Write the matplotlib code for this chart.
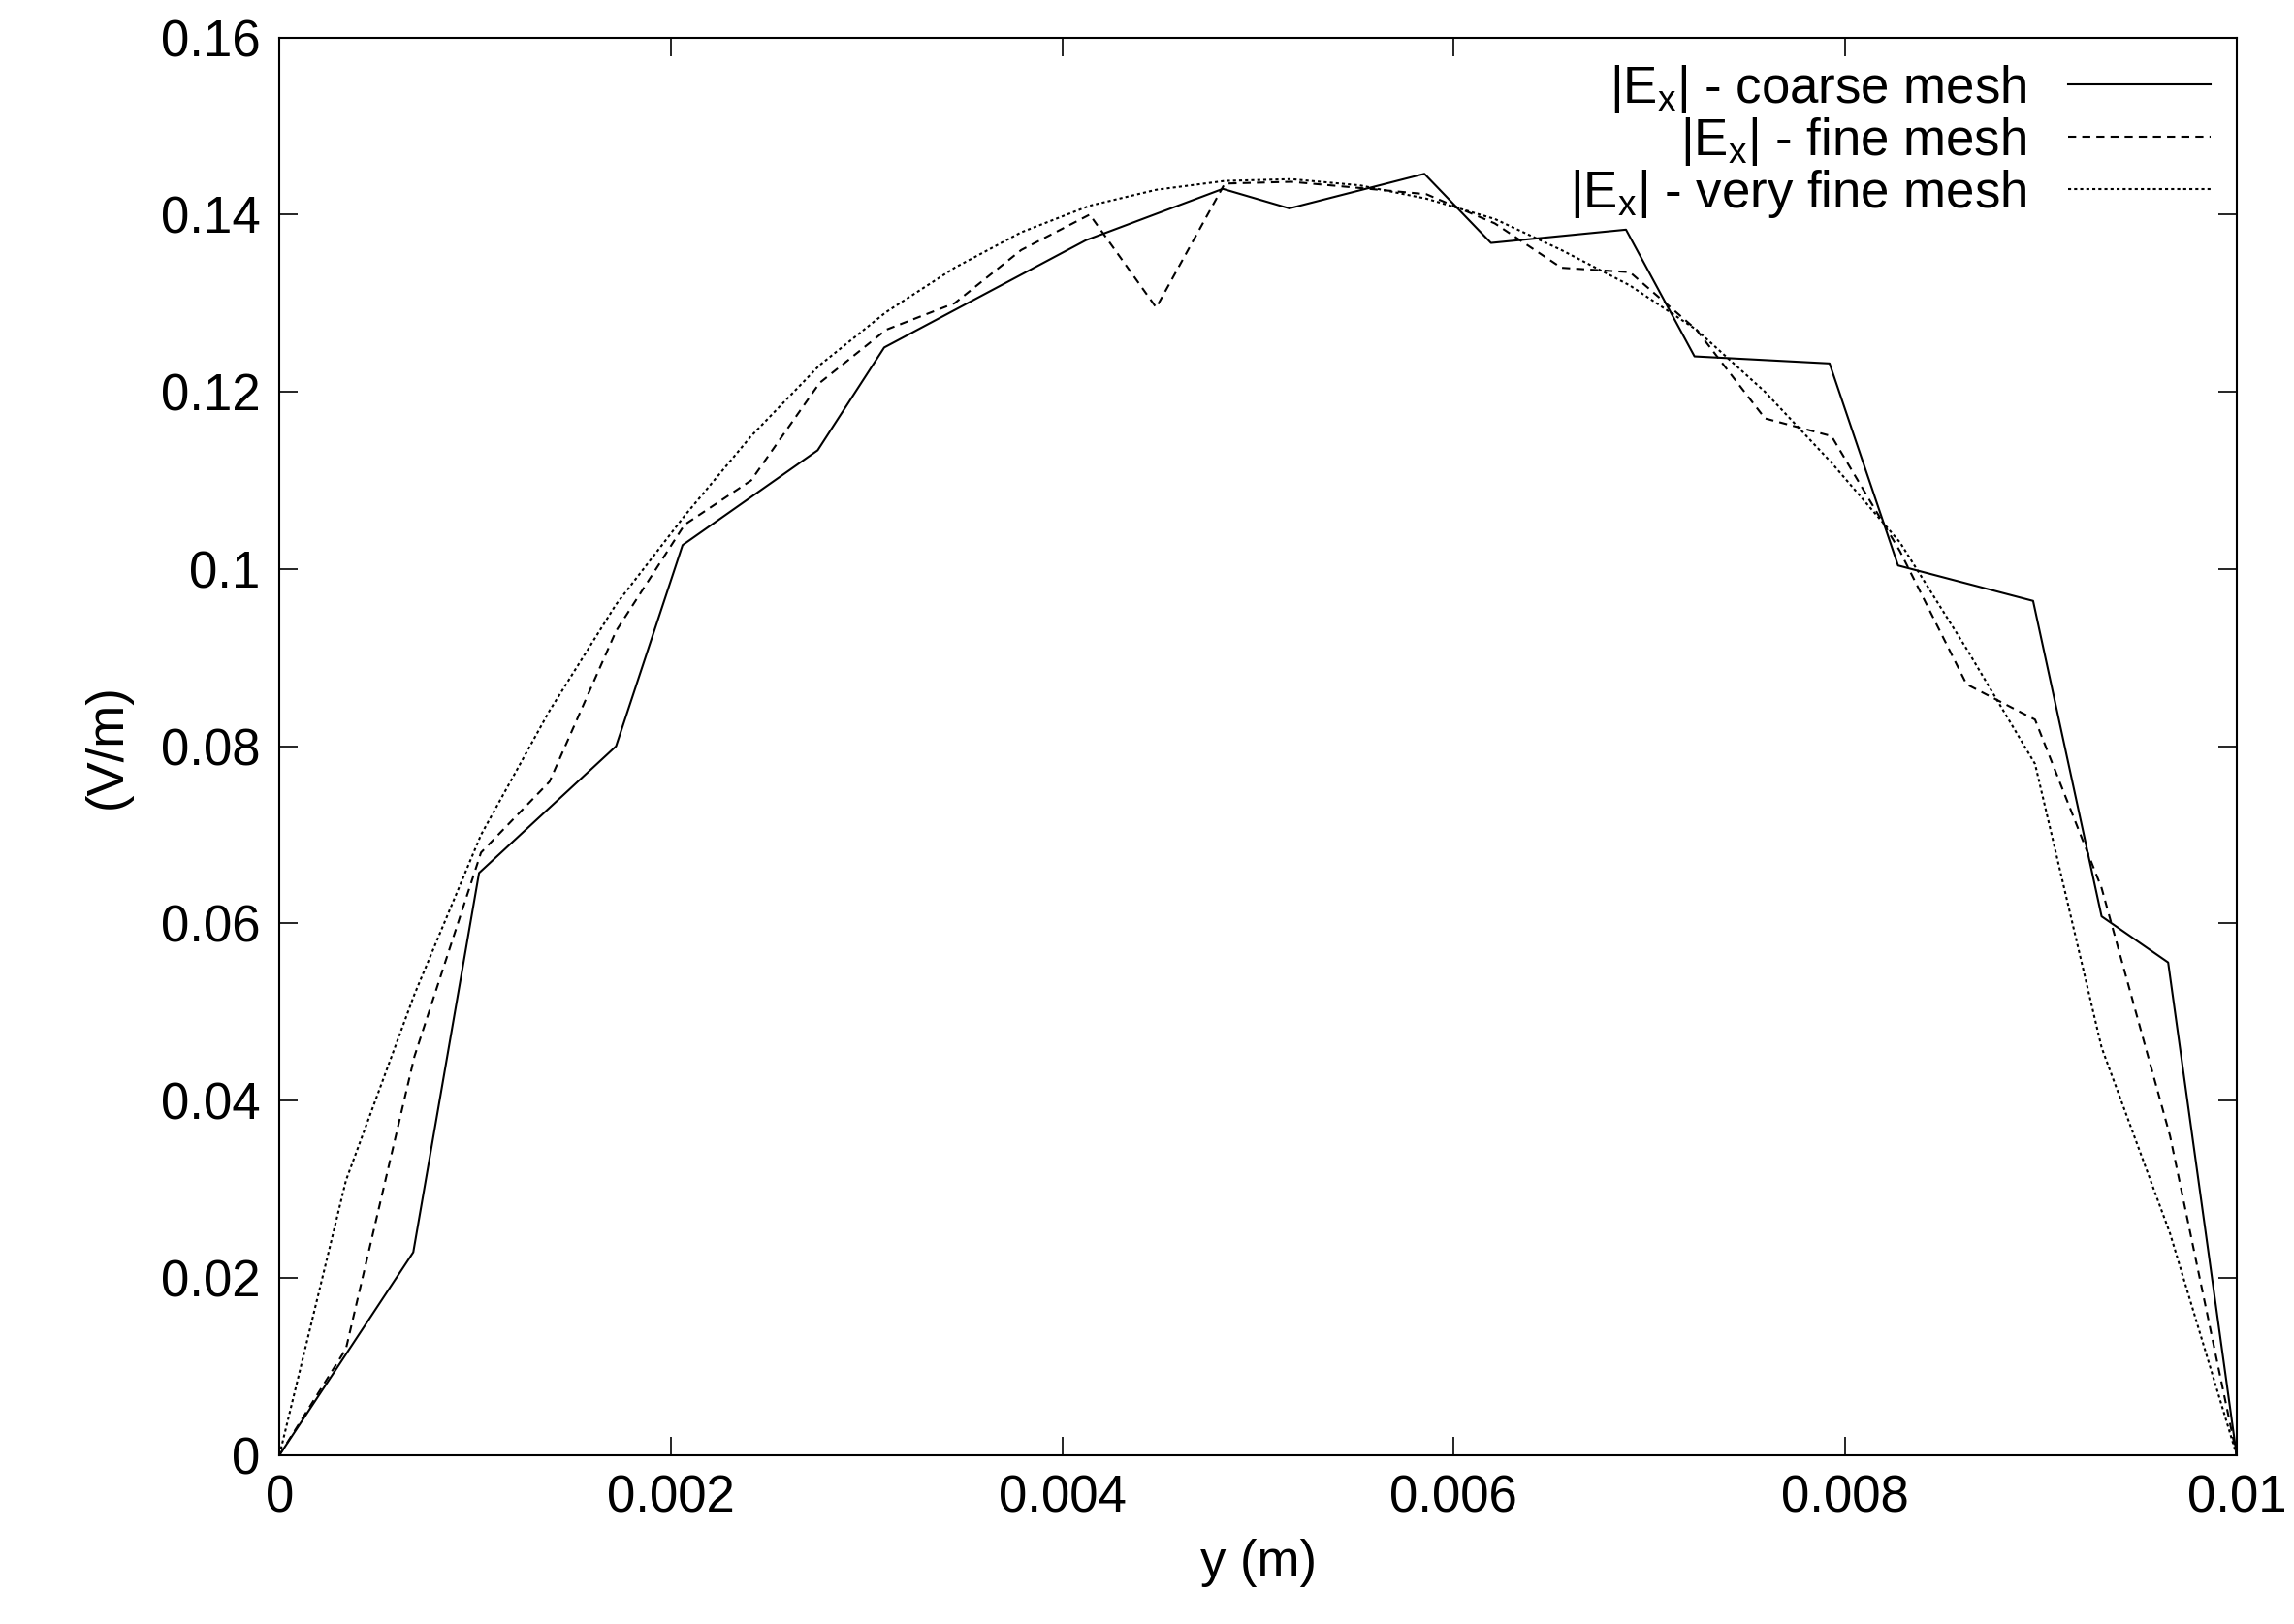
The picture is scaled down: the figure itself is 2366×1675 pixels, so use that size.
import matplotlib
matplotlib.use("Agg")
import matplotlib.pyplot as plt

plt.rcParams['font.family'] = ['Liberation Sans', 'DejaVu Sans']
plt.rcParams['mathtext.fontset'] = 'custom'
plt.rcParams['mathtext.rm'] = 'Liberation Sans'
plt.rcParams['mathtext.it'] = 'Liberation Sans'

coarse_x = [0, 0.000684, 0.00102, 0.00172, 0.00206, 0.00275, 0.00309, 0.00412, 0.00482, 0.00516,
            0.00585, 0.00619, 0.00688, 0.00723, 0.00792, 0.00827, 0.00896, 0.00931, 0.00965, 0.01]
coarse_y = [0, 0.0229, 0.0657, 0.0800, 0.1027, 0.1134, 0.1250, 0.1371, 0.1429, 0.1407,
            0.1446, 0.1368, 0.1383, 0.1240, 0.1232, 0.1004, 0.0964, 0.0608, 0.0556, 0]

fine_x = [0, 0.00034, 0.00069, 0.00103, 0.00138, 0.00172, 0.00207, 0.00241, 0.00276, 0.0031,
          0.00345, 0.00379, 0.00414, 0.00448, 0.00483, 0.00517, 0.00552, 0.00586, 0.00621, 0.00655,
          0.0069, 0.00724, 0.00759, 0.00793, 0.00828, 0.00862, 0.00897, 0.00931, 0.00966, 0.01]
fine_y = [0, 0.012, 0.045, 0.068, 0.076, 0.093, 0.105, 0.110, 0.121, 0.127,
          0.130, 0.136, 0.140, 0.1295, 0.1435, 0.1437, 0.1430, 0.1423, 0.1390, 0.1340,
          0.1335, 0.1270, 0.1170, 0.1150, 0.1020, 0.0870, 0.0830, 0.0640, 0.0360, 0]

vfine_x = [0, 0.00034, 0.00069, 0.00103, 0.00138, 0.00172, 0.00207, 0.00241, 0.00276, 0.0031,
           0.00345, 0.00379, 0.00414, 0.00448, 0.00483, 0.00517, 0.00552, 0.00586, 0.00621, 0.00655,
           0.0069, 0.00724, 0.00759, 0.00793, 0.00828, 0.00862, 0.00897, 0.00931, 0.00966, 0.01]
vfine_y = [0, 0.031, 0.052, 0.070, 0.084, 0.096, 0.106, 0.115, 0.123, 0.129,
           0.134, 0.138, 0.141, 0.1428, 0.1438, 0.1440, 0.1433, 0.1418, 0.1395, 0.1360,
           0.1320, 0.1270, 0.1200, 0.1120, 0.1030, 0.0910, 0.0780, 0.0460, 0.0250, 0]

labels = [r'|E$_\mathregular{x}$| - coarse mesh', r'|E$_\mathregular{x}$| - fine mesh',
          r'|E$_\mathregular{x}$| - very fine mesh']

fig = plt.figure(figsize=(23.66, 16.75), dpi=100)
ax = fig.add_axes([0.1218, 0.104, 0.975 - 0.1218, 0.977 - 0.104])
ax.plot(coarse_x, coarse_y, color='black', lw=1.5, ls='-', label=labels[0])
ax.plot(fine_x, fine_y, color='black', lw=1.5, ls=(0, (4, 3)), label=labels[1])
ax.plot(vfine_x, vfine_y, color='black', lw=1.5, ls=(0, (1.5, 1.5)), label=labels[2])

ax.set_xlim(0, 0.01)
ax.set_ylim(0, 0.16)
ax.set_xticks([0, 0.002, 0.004, 0.006, 0.008, 0.01])
ax.set_xticklabels(['0', '0.002', '0.004', '0.006', '0.008', '0.01'])
ax.set_yticks([0, 0.02, 0.04, 0.06, 0.08, 0.1, 0.12, 0.14, 0.16])
ax.set_yticklabels(['0', '0.02', '0.04', '0.06', '0.08', '0.1', '0.12', '0.14', '0.16'])
ax.tick_params(direction='in', top=True, right=True, length=14, width=1.2, labelsize=38, pad=14)
for s in ax.spines.values():
    s.set_linewidth(1.5)
ax.set_xlabel('y (m)', fontsize=38, labelpad=12)
ax.set_ylabel('(V/m)', fontsize=38, labelpad=22)

leg = ax.legend(loc='upper right', frameon=False, fontsize=38, markerfirst=False,
                handlelength=2.8, labelspacing=0.0, borderaxespad=0.1, handletextpad=0.8)
for t in leg.get_texts():
    t.set_ha('right')
leg._legend_box.align = 'right'

fig.savefig('out.png', dpi=100)
